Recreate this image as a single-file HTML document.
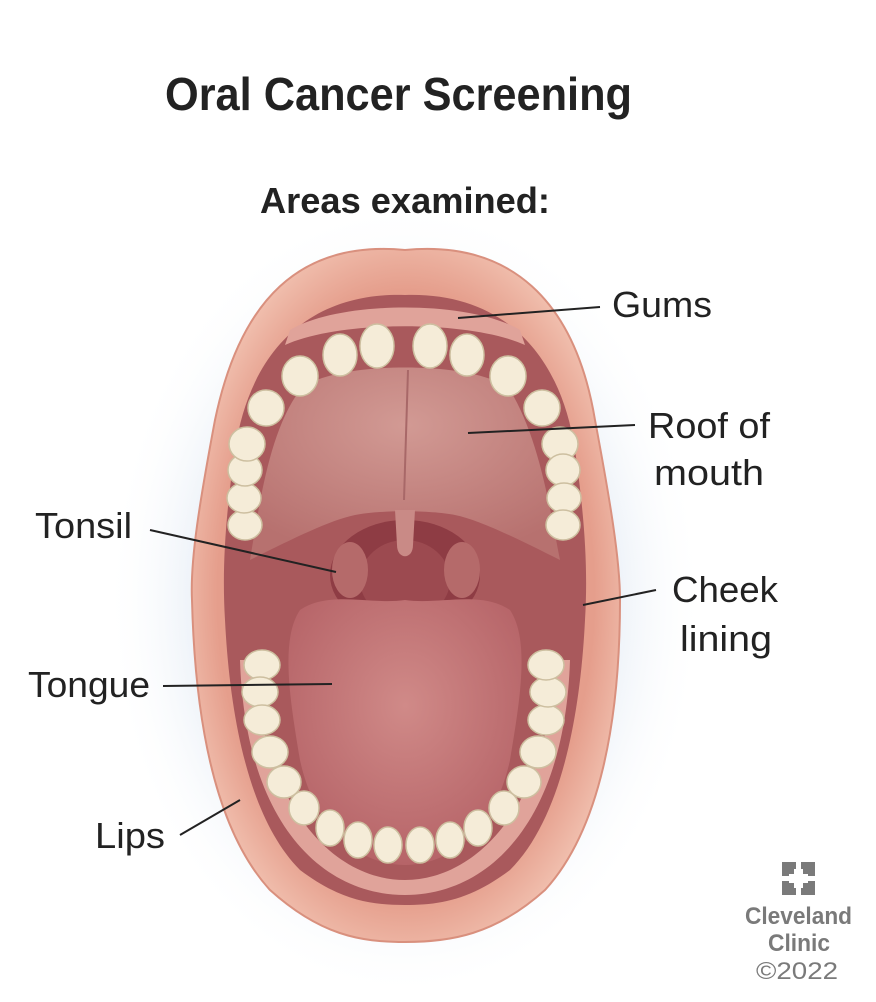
<!DOCTYPE html>
<html><head><meta charset="utf-8"><style>
html,body{margin:0;padding:0;background:#fff;}
body{width:876px;height:1002px;overflow:hidden;position:relative;font-family:"Liberation Sans",sans-serif;}
svg{position:absolute;left:0;top:0;}
</style></head><body>
<svg width="876" height="1002" viewBox="0 0 876 1002" xmlns="http://www.w3.org/2000/svg">
<defs>
<radialGradient id="glow" cx="0.5" cy="0.5" r="0.5">
<stop offset="0.6" stop-color="#dfe8f3"/><stop offset="1" stop-color="#ffffff" stop-opacity="0"/></radialGradient>
<radialGradient id="lip" cx="0.5" cy="0.5" r="0.55">
<stop offset="0.8" stop-color="#e59e8c"/><stop offset="1" stop-color="#f2c3b2"/></radialGradient>
<radialGradient id="tong" cx="0.5" cy="0.4" r="0.6">
<stop offset="0" stop-color="#d08a88"/><stop offset="1" stop-color="#b66468"/></radialGradient>
<radialGradient id="pal" cx="0.5" cy="0.3" r="0.7">
<stop offset="0" stop-color="#d29a94"/><stop offset="1" stop-color="#b7716f"/></radialGradient>
</defs>
<ellipse cx="405" cy="600" rx="300" ry="400" fill="url(#glow)"/>
<path d="M405,250 C300,240 240,300 215,420 C200,500 190,560 192,600 C195,720 215,830 270,890 C320,935 360,942 405,942 C450,942 495,935 545,890 C600,830 620,720 620,600 C620,560 610,500 595,420 C575,300 510,240 405,250 Z" fill="url(#lip)" stroke="#d9907e" stroke-width="2"/>
<path d="M405,295 C310,292 250,350 235,450 C225,520 222,570 225,620 C230,720 250,820 300,870 C340,900 370,905 405,905 C440,905 470,900 510,870 C560,820 580,720 585,620 C588,570 585,520 575,450 C560,350 500,292 405,295 Z" fill="#a9595c"/>
<path d="M300,390 C330,360 480,360 510,390 C540,440 550,510 560,560 C520,540 480,520 455,515 C430,510 380,510 355,515 C330,520 290,540 250,560 C260,500 270,430 300,390 Z" fill="url(#pal)"/>
<line x1="408" y1="370" x2="404" y2="500" stroke="#a86868" stroke-width="2"/>
<path d="M290,330 C340,300 470,300 520,330 L525,345 C470,320 340,320 285,345 Z" fill="#e0a39a"/>
<ellipse cx="405" cy="575" rx="75" ry="55" fill="#8e3c44"/>
<ellipse cx="405" cy="580" rx="45" ry="40" fill="#9c4a50"/>
<ellipse cx="350" cy="570" rx="18" ry="28" fill="#b56a6a"/>
<ellipse cx="462" cy="570" rx="18" ry="28" fill="#b56a6a"/>
<path d="M395,510 L397,545 C397,560 413,560 413,545 L415,510 Z" fill="#c98a86"/>
<path d="M300,610 C330,590 370,605 405,600 C440,605 480,590 510,610 C530,640 520,700 510,760 C495,830 450,865 405,865 C360,865 315,830 300,760 C290,700 280,640 300,610 Z" fill="url(#tong)"/>
<path d="M255,660 C260,800 330,880 405,880 C480,880 550,800 555,660 L570,660 C565,820 490,895 405,895 C320,895 245,820 240,660 Z" fill="#e0a39a"/>
<g fill="#f5ecd8" stroke="#cdbfa0" stroke-width="1.5">
<ellipse cx="245" cy="525" rx="17" ry="15"/><ellipse cx="244" cy="498" rx="17" ry="15"/><ellipse cx="245" cy="470" rx="17" ry="16"/>
<ellipse cx="247" cy="444" rx="18" ry="17"/><ellipse cx="266" cy="408" rx="18" ry="18"/><ellipse cx="300" cy="376" rx="18" ry="20"/>
<ellipse cx="340" cy="355" rx="17" ry="21"/><ellipse cx="377" cy="346" rx="17" ry="22"/><ellipse cx="430" cy="346" rx="17" ry="22"/>
<ellipse cx="467" cy="355" rx="17" ry="21"/><ellipse cx="508" cy="376" rx="18" ry="20"/><ellipse cx="542" cy="408" rx="18" ry="18"/>
<ellipse cx="560" cy="444" rx="18" ry="17"/><ellipse cx="563" cy="470" rx="17" ry="16"/><ellipse cx="564" cy="498" rx="17" ry="15"/><ellipse cx="563" cy="525" rx="17" ry="15"/>
<ellipse cx="262" cy="665" rx="18" ry="15"/><ellipse cx="260" cy="692" rx="18" ry="15"/><ellipse cx="262" cy="720" rx="18" ry="15"/>
<ellipse cx="270" cy="752" rx="18" ry="16"/><ellipse cx="284" cy="782" rx="17" ry="16"/><ellipse cx="304" cy="808" rx="15" ry="17"/>
<ellipse cx="330" cy="828" rx="14" ry="18"/><ellipse cx="358" cy="840" rx="14" ry="18"/><ellipse cx="388" cy="845" rx="14" ry="18"/>
<ellipse cx="420" cy="845" rx="14" ry="18"/><ellipse cx="450" cy="840" rx="14" ry="18"/><ellipse cx="478" cy="828" rx="14" ry="18"/>
<ellipse cx="504" cy="808" rx="15" ry="17"/><ellipse cx="524" cy="782" rx="17" ry="16"/><ellipse cx="538" cy="752" rx="18" ry="16"/>
<ellipse cx="546" cy="720" rx="18" ry="15"/><ellipse cx="548" cy="692" rx="18" ry="15"/><ellipse cx="546" cy="665" rx="18" ry="15"/>
</g>
<g stroke="#222" stroke-width="2">
<line x1="458" y1="318" x2="600" y2="307"/>
<line x1="468" y1="433" x2="635" y2="425"/>
<line x1="150" y1="530" x2="336" y2="572"/>
<line x1="583" y1="605" x2="656" y2="590"/>
<line x1="163" y1="686" x2="332" y2="684"/>
<line x1="180" y1="835" x2="240" y2="800"/>
</g>
<g font-family="'Liberation Sans',sans-serif" fill="#222" font-size="36" lengthAdjust="spacingAndGlyphs">
<text x="165" y="110" font-weight="bold" font-size="46" textLength="467" lengthAdjust="spacingAndGlyphs">Oral Cancer Screening</text>
<text x="260" y="213" font-weight="bold" font-size="36" textLength="290" lengthAdjust="spacingAndGlyphs">Areas examined:</text>
<text x="612" y="317" textLength="100" lengthAdjust="spacingAndGlyphs">Gums</text>
<text x="648" y="438" textLength="122" lengthAdjust="spacingAndGlyphs">Roof of</text>
<text x="654" y="485" textLength="110" lengthAdjust="spacingAndGlyphs">mouth</text>
<text x="35" y="538" textLength="97" lengthAdjust="spacingAndGlyphs">Tonsil</text>
<text x="672" y="602" textLength="106" lengthAdjust="spacingAndGlyphs">Cheek</text>
<text x="680" y="651" textLength="92" lengthAdjust="spacingAndGlyphs">lining</text>
<text x="28" y="697" textLength="122" lengthAdjust="spacingAndGlyphs">Tongue</text>
<text x="95" y="848" textLength="70" lengthAdjust="spacingAndGlyphs">Lips</text>
</g>
<g fill="#7a7a7a">
<rect x="782" y="862" width="14" height="14"/><rect x="801" y="862" width="14" height="14"/>
<rect x="782" y="881" width="14" height="14"/><rect x="801" y="881" width="14" height="14"/>
</g>
<rect x="794" y="869" width="9" height="19" fill="#fff"/><rect x="789" y="874" width="19" height="9" fill="#fff"/>
<g font-family="'Liberation Sans',sans-serif" fill="#7a7a7a">
<text x="745" y="924" font-size="24" font-weight="bold" textLength="107" lengthAdjust="spacingAndGlyphs">Cleveland</text>
<text x="768" y="951" font-size="24" font-weight="bold" textLength="62" lengthAdjust="spacingAndGlyphs">Clinic</text>
<text x="756" y="979" font-size="24" textLength="82" lengthAdjust="spacingAndGlyphs">©2022</text>
</g>
</svg>
</body></html>
